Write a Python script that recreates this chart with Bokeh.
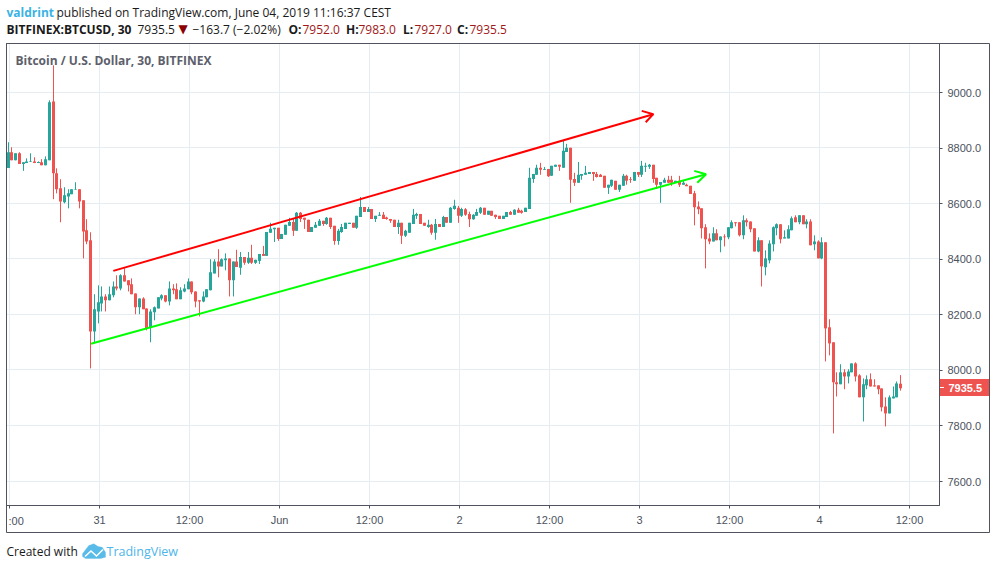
import math
from bokeh.plotting import figure
from bokeh.models import (Range1d, FixedTicker, Label, BoxAnnotation, PolyAnnotation,
                          NumeralTickFormatter, ColumnDataSource)
from bokeh.embed import file_html
from bokeh.resources import INLINE

opens = [8728,8785,8756,8781,8743,8746,8750,8752,8746,8749,8738,8756,
8968,8709,8655,8605,8626,8634,8650,8652,8612,8504,8468,8140,
8212,8241,8266,8252,8270,8302,8295,8342,8324,8310,8277,8227,
8259,8223,8155,8209,8223,8259,8270,8248,8295,8292,8256,8284,
8292,8320,8284,8252,8248,8263,8288,8349,8392,8374,8396,8403,
8324,8392,8369,8408,8387,8405,8387,8394,8419,8412,8495,8508,
8513,8473,8488,8520,8534,8502,8567,8549,8542,8498,8513,8520,
8538,8527,8549,8520,8466,8498,8509,8527,8531,8513,8552,8588,
8570,8581,8545,8556,8560,8550,8545,8542,8516,8531,8484,8495,
8527,8556,8563,8531,8516,8524,8495,8527,8516,8552,8531,8581,
8585,8556,8580,8563,8544,8556,8567,8585,8560,8574,8560,8556,
8545,8552,8570,8560,8578,8574,8570,8581,8689,8704,8729,8722,
8725,8700,8733,8740,8729,8786,8801,8689,8675,8700,8704,8707,
8714,8707,8704,8700,8657,8664,8682,8650,8664,8700,8689,8682,
8714,8704,8733,8733,8740,8693,8668,8675,8686,8686,8675,8682,
8668,8668,8664,8637,8590,8583,8515,8475,8464,8493,8468,8482,
8479,8511,8533,8533,8486,8540,8536,8511,8428,8468,8371,8396,
8454,8511,8526,8475,8475,8504,8551,8533,8558,8526,8536,8454,
8464,8403,8461,8155,8101,7957,7950,7993,7978,7993,8025,7982,
7903,7946,7968,7946,7946,7935,7870,7845,7899,7903,7952]
highs = [8821,8803,8781,8785,8749,8763,8781,8767,8752,8760,8770,8972,
9098,8727,8688,8659,8652,8652,8677,8652,8612,8544,8497,8274,
8306,8302,8274,8302,8320,8342,8346,8367,8324,8331,8277,8259,
8263,8223,8220,8230,8263,8274,8270,8320,8310,8313,8299,8310,
8331,8320,8284,8252,8284,8292,8400,8400,8436,8403,8421,8403,
8392,8434,8426,8408,8426,8452,8398,8419,8448,8498,8531,8513,
8513,8491,8524,8549,8545,8570,8570,8549,8542,8516,8534,8545,
8538,8552,8549,8520,8509,8527,8531,8531,8531,8556,8624,8588,
8588,8581,8556,8570,8570,8553,8545,8542,8542,8531,8506,8531,
8581,8567,8563,8531,8542,8527,8545,8527,8556,8552,8588,8614,
8592,8585,8584,8571,8562,8581,8588,8585,8574,8574,8560,8556,
8556,8570,8574,8580,8585,8578,8585,8729,8707,8740,8747,8732,
8725,8736,8740,8740,8826,8815,8801,8711,8750,8707,8736,8714,
8714,8714,8707,8700,8668,8686,8682,8668,8707,8704,8696,8714,
8714,8754,8747,8743,8740,8693,8678,8693,8700,8700,8682,8700,
8682,8672,8664,8646,8608,8583,8526,8493,8515,8508,8482,8490,
8515,8540,8533,8533,8558,8547,8536,8511,8479,8468,8432,8468,
8518,8529,8526,8504,8522,8554,8558,8558,8558,8544,8544,8486,
8468,8479,8461,8184,8101,7993,8022,8004,8004,8025,8029,7986,
7971,7982,7989,7968,7946,7935,7903,7910,7942,7960,7983]
lows = [8728,8756,8756,8743,8718,8746,8750,8746,8746,8738,8738,8756,
8616,8637,8533,8601,8583,8634,8650,8583,8403,8454,8007,8097,
8169,8212,8212,8252,8263,8288,8288,8320,8284,8274,8202,8202,
8220,8144,8101,8180,8223,8252,8245,8234,8274,8256,8256,8281,
8292,8274,8227,8194,8245,8263,8288,8349,8335,8374,8360,8266,
8266,8372,8344,8380,8383,8383,8383,8383,8412,8412,8495,8462,
8466,8473,8488,8520,8484,8502,8534,8509,8498,8498,8513,8520,
8520,8524,8509,8452,8452,8495,8509,8527,8513,8509,8552,8570,
8570,8545,8534,8556,8545,8542,8531,8516,8491,8455,8480,8495,
8527,8545,8527,8520,8513,8488,8470,8516,8516,8531,8531,8578,
8531,8552,8556,8516,8542,8556,8563,8560,8560,8556,8545,8545,
8545,8552,8560,8560,8567,8564,8570,8581,8675,8704,8704,8722,
8696,8700,8733,8718,8729,8786,8603,8664,8675,8686,8704,8707,
8682,8694,8696,8657,8635,8660,8650,8642,8664,8668,8675,8682,
8696,8696,8714,8725,8675,8653,8603,8675,8675,8664,8675,8660,
8668,8663,8635,8522,8562,8475,8367,8454,8464,8468,8425,8446,
8472,8511,8518,8482,8472,8518,8497,8428,8425,8302,8342,8385,
8428,8486,8457,8475,8475,8504,8533,8526,8526,8511,8450,8432,
8403,8400,8032,8054,7773,7906,7950,7932,7953,7993,7960,7903,
7816,7932,7942,7942,7914,7852,7798,7845,7899,7903,7927]
closes = [8785,8756,8781,8743,8749,8752,8752,8746,8750,8738,8760,8965,
8709,8652,8608,8630,8637,8652,8652,8608,8500,8464,8140,8220,
8245,8266,8252,8274,8302,8295,8342,8320,8306,8274,8227,8259,
8220,8151,8212,8227,8263,8270,8248,8295,8288,8256,8288,8295,
8320,8281,8248,8248,8266,8292,8353,8392,8374,8400,8403,8324,
8392,8372,8408,8387,8405,8387,8398,8419,8412,8498,8510,8513,
8473,8491,8524,8534,8502,8567,8545,8542,8498,8516,8524,8538,
8527,8549,8516,8466,8502,8516,8531,8531,8513,8556,8588,8570,
8581,8545,8556,8560,8545,8545,8538,8516,8531,8484,8502,8531,
8560,8563,8527,8520,8524,8495,8527,8516,8552,8531,8585,8592,
8556,8581,8560,8544,8560,8570,8585,8560,8574,8556,8552,8545,
8556,8570,8560,8578,8567,8567,8585,8693,8707,8729,8722,8725,
8699,8736,8740,8733,8790,8801,8686,8675,8704,8707,8711,8714,
8707,8696,8696,8657,8668,8686,8650,8668,8700,8682,8686,8714,
8704,8736,8736,8740,8689,8668,8678,8686,8675,8675,8682,8668,
8675,8663,8635,8587,8580,8511,8472,8464,8493,8468,8482,8479,
8515,8533,8529,8486,8540,8533,8508,8428,8468,8374,8403,8457,
8515,8526,8472,8479,8508,8547,8533,8558,8526,8536,8450,8464,
8403,8461,8151,8097,7957,7950,7993,7978,7996,8025,7978,7903,
7950,7968,7942,7942,7932,7867,7845,7903,7906,7953,7935.5]

# x is counted in 30-minute bars from 31 May 00:00
tick_bars = [-24, 0, 24, 48, 72, 96, 120, 144, 168, 192, 216]
tick_labels = ["", "31", "12:00", "Jun", "12:00", "2", "12:00", "3", "12:00", "4", "12:00"]
price_ticks = [7600, 7800, 8000, 8200, 8400, 8600, 8800, 9000]
last_price = 7935.5

red_line_bar = [3.68, 147.68]
red_line_price = [8358, 8922]
red_head_bar = [144.59, 147.68, 145.65]
red_head_price = [8934, 8922, 8893]
green_line_bar = [-2.27, 161.73]
green_line_price = [8096, 8706]
green_head_bar = [158.61, 161.73, 159.41]
green_head_price = [8718, 8706, 8675]

UP, DOWN = "#26a69a", "#ef5350"
AXIS = "#50535e"
TXT = "#4c525e"
GRID = "#e6edf2"
SANS = "Liberation Sans"
HEAD = "Open Sans"

BAR_PX = 3.75
PRICE_PER_PX = 1400 / 389
def bar_of_px(px):
    return (px - 99.5) / BAR_PX
def price_of_px(py):
    return 9000 - (py - 92.5) * PRICE_PER_PX
def px_of_price(v):
    return 92.5 + (9000 - v) / PRICE_PER_PX
def bar_x(i):
    return bar_of_px(math.floor(8 + BAR_PX * i) + 0.5)

n = len(opens)
xs = [bar_x(i) for i in range(n)]
colors = [UP if closes[i] >= opens[i] else DOWN for i in range(n)]
src = ColumnDataSource(dict(x=xs, h=highs, l=lows, color=colors,
                            top=[max(a, b) for a, b in zip(opens, closes)],
                            bot=[min(a, b) for a, b in zip(opens, closes)]))

# the svg backend draws half a pixel off: the ranges take that back
p = figure(width=996, height=569, output_backend="svg", toolbar_location=None,
           x_range=Range1d(bar_of_px(0.5), bar_of_px(996.5)),
           y_range=Range1d(price_of_px(569.5), price_of_px(0.5)),
           y_axis_location="right",
           min_border=0, background_fill_color="white", border_fill_color="white",
           outline_line_color=None)

p.grid.visible = False
pane_top, pane_bottom = price_of_px(43.5), price_of_px(505.5)
pane_left, pane_right = bar_of_px(6.5), bar_of_px(939.5)
grid_prices = [price_of_px(math.floor(px_of_price(v) - 0.4) + 0.5) for v in price_ticks]
p.segment(tick_bars, [pane_bottom] * len(tick_bars), tick_bars, [pane_top] * len(tick_bars),
          line_color=GRID, line_width=1, level="underlay")
p.segment([pane_left] * len(grid_prices), grid_prices, [pane_right] * len(grid_prices), grid_prices,
          line_color=GRID, line_width=1, level="underlay")

xa = p.xaxis[0]
xa.ticker = FixedTicker(ticks=tick_bars)
xa.major_label_overrides = dict(zip(tick_bars, tick_labels))
xa.fixed_location = pane_bottom
xa.bounds = (pane_left, pane_right)
ya = p.yaxis[0]
ya.ticker = FixedTicker(ticks=price_ticks)
ya.formatter = NumeralTickFormatter(format="0.0")
ya.fixed_location = pane_right
ya.bounds = (pane_bottom, pane_top)
for a in (xa, ya):
    a.axis_line_color = AXIS
    a.major_tick_line_color = AXIS
    a.major_tick_in = 0
    a.major_tick_out = 3
    a.minor_tick_line_color = None
    a.major_label_text_color = TXT
    a.major_label_text_font = SANS
    a.major_label_text_font_size = "11px"
xa.major_label_standoff = 5
ya.major_label_standoff = 5

p.segment("x", "h", "x", "l", color="color", line_width=1, source=src)
p.vbar(x="x", width=3 / BAR_PX, top="top", bottom="bot", fill_color="color",
       line_color=None, source=src)

p.line(red_line_bar, red_line_price, line_color="#ff0000", line_width=2)
p.line(red_head_bar, red_head_price, line_color="#ff0000", line_width=2)
p.line(green_line_bar, green_line_price, line_color="#00ff00", line_width=2)
p.line(green_head_bar, green_head_price, line_color="#00ff00", line_width=2)

def txt(x, y, s, color=TXT, size="12px", font=HEAD, style="normal", align="left"):
    p.add_layout(Label(x=x, y=y, x_units="canvas", y_units="canvas", text=s, text_color=color,
                       text_font=font, text_font_size=size, text_font_style=style,
                       text_align=align, text_baseline="middle", level="overlay"))

def box(l, r, t, b, fill=None, line=None):
    p.add_layout(BoxAnnotation(left=l, right=r, top=t, bottom=b,
                               left_units="canvas", right_units="canvas",
                               top_units="canvas", bottom_units="canvas",
                               fill_color=fill, fill_alpha=1 if fill else 0,
                               line_color=line, line_width=1, line_alpha=1 if line else 0,
                               level="overlay"))

# frame of the chart pane and of its axes
box(6, 989, 43, 532, line=AXIS)
box(6, 939, 43, 505, line=AXIS)

# last price tag
box(939.5, 988.5, 378.5, 395.5, fill=DOWN)
box(939.5, 943.5, 386.5, 387.5, fill="white")
txt(948, 387.5, "7935.5", color="white", size="11px", font=SANS, style="bold")

txt(8, 520, ":00", size="11px", font=SANS)
txt(15, 59.5, "Bitcoin / U.S. Dollar, 30, BITFINEX", color="#5d606b", size="12px", font=HEAD, style="bold")

BLACK = "#1a1a1a"
DARK_RED = "#a01818"
txt(6, 11.5, "valdrint", color="#3bb3e4", style="bold")
txt(56, 11.5, "published on TradingView.com, June 04, 2019 11:16:37 CEST", color=BLACK)
txt(6, 28.5, "BITFINEX:BTCUSD, 30", color=BLACK, style="bold")
txt(137, 28.5, "7935.5", color=BLACK)
txt(178, 28.5, "▼", color="#8b0000", size="12px", font="DejaVu Sans")
txt(192, 28.5, "−163.7 (−2.02%)", color=BLACK)
for lx, ls, vx, vs in [(288, "O:", 302, "7952.0"), (345.5, "H:", 358, "7983.0"),
                       (402.5, "L:", 414, "7927.0"), (456.5, "C:", 469, "7935.5")]:
    txt(lx, 28.5, ls, color=BLACK, style="bold")
    txt(vx, 28.5, vs, color=DARK_RED)

txt(6, 550.5, "Created with", color=BLACK)
txt(106, 550.5, "TradingView", color="#4db5e8", size="12.5px")

LOGO = "#58bbe8"
p.add_layout(PolyAnnotation(xs=[82, 85, 88.3, 93.3, 97.7, 101.7, 105, 105, 100, 85, 82],
                            ys=[553.3, 549.3, 545, 543.3, 546, 546.7, 551.7, 556.7, 558, 558, 556],
                            xs_units="canvas", ys_units="canvas", fill_color=LOGO, fill_alpha=1,
                            line_color=LOGO, level="overlay"))
p.add_layout(PolyAnnotation(xs=[84, 90.5, 96, 102, 103, 96, 90.5, 85],
                            ys=[555.5, 549.5, 554.5, 548.5, 549.5, 556.5, 551.5, 556.5],
                            xs_units="canvas", ys_units="canvas", fill_color="white", fill_alpha=1,
                            line_color=None, level="overlay"))

open("out.html", "w").write(file_html(p, INLINE))
